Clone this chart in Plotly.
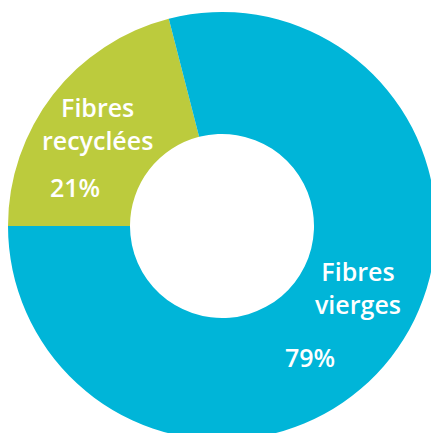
import plotly.graph_objects as go

labels = ["Fibres recyclées", "Fibres vierges"]
values = [21, 79]
colors = ["#bccb3d", "#00b5d8"]
label_text = ["Fibres<br>recyclées", "Fibres<br>vierges"]
pct_text = ["21%", "79%"]

W, H = 440, 440
CX, CY, R = 222, 226, 214

fig = go.Figure(go.Pie(
    labels=labels, values=values, hole=0.43, sort=False,
    direction="clockwise", rotation=270,
    marker=dict(colors=colors, line=dict(width=0)),
    textinfo="none", hoverinfo="label+percent", showlegend=False,
    domain=dict(x=[(CX - R) / W, (CX + R) / W],
                y=[1 - (CY + R) / H, 1 - (CY - R) / H]),
))

font = dict(family="Open Sans", size=25, color="white", weight=600)
pos_label = [(97, 124), (358, 287)]
pos_pct = [(75, 187), (310, 357)]
for t, (x, y) in zip(label_text + pct_text, pos_label + pos_pct):
    fig.add_annotation(text=t, x=x / W, y=1 - y / H, xref="paper", yref="paper",
                       xanchor="center", yanchor="middle",
                       showarrow=False, font=font, align="center")

fig.update_layout(width=W, height=H, autosize=False,
                  margin=dict(l=0, r=0, t=0, b=0, pad=0),
                  paper_bgcolor="white", plot_bgcolor="white")
fig.write_html("out.html", config={"displayModeBar": False},
               post_script="document.body.style.margin='0';"
                           "document.body.style.overflow='hidden';"
                           "document.documentElement.style.overflow='hidden';")
